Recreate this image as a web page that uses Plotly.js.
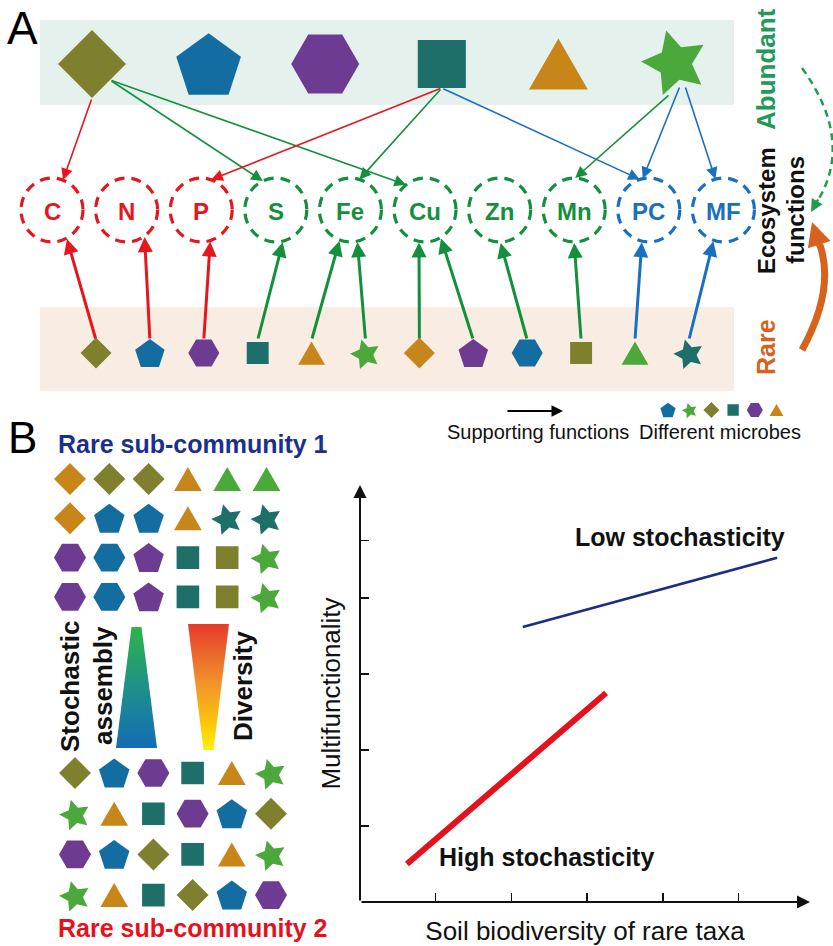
<!DOCTYPE html>
<html><head><meta charset="utf-8">
<script src="https://cdn.plot.ly/plotly-3.0.1.min.js"></script>
<style>html,body{margin:0;padding:0;background:#fff}</style>
</head><body><div id="chart" style="width:833px;height:946px"></div>
<script>
// ================= DATA =================
const abundantMicrobes = ['diamond:olive','pentagon:blue','hexagon:purple','square:teal','triangle:orange','star:green'];
const functionLabels   = ['C','N','P','S','Fe','Cu','Zn','Mn','PC','MF'];
const functionGroups   = ['nutrient','nutrient','nutrient','metal','metal','metal','metal','metal','process','process'];
const rareMicrobes     = ['diamond:olive','pentagon:blue','hexagon:purple','square:teal','triangle:orange','star:green',
                          'diamond:orange','pentagon:purple','hexagon:blue','square:olive','triangle:green','star:teal'];
const rareTargets      = ['C','N','P','S','Fe','Fe','Cu','Cu','Zn','Mn','PC','MF'];
const abundantSources  = [0,0,0,3,3,3,5,5,5];
const abundantTargets  = ['C','S','Cu','P','Fe','PC','Mn','PC','MF'];
const legendMicrobes   = ['pentagon:blue','star:green','diamond:olive','square:teal','hexagon:purple','triangle:orange'];
const community1 = [
  ['diamond:orange','diamond:olive','diamond:olive','triangle:orange','triangle:green','triangle:green'],
  ['diamond:orange','pentagon:blue','pentagon:blue','triangle:orange','star:teal','star:teal'],
  ['hexagon:purple','hexagon:blue','pentagon:purple','square:teal','square:olive','star:green'],
  ['hexagon:purple','hexagon:blue','pentagon:purple','square:teal','square:olive','star:green']
];
const community2 = [
  ['diamond:olive','pentagon:blue','hexagon:purple','square:teal','triangle:orange','star:green'],
  ['star:green','triangle:orange','square:teal','hexagon:purple','pentagon:blue','diamond:olive'],
  ['hexagon:purple','pentagon:blue','diamond:olive','square:teal','triangle:orange','star:green'],
  ['star:green','triangle:orange','square:teal','diamond:olive','pentagon:blue','hexagon:purple']
];
const lowStochX  = [2.15, 5.51], lowStochY  = [3.62, 4.53];
const highStochX = [0.62, 3.25], highStochY = [0.50, 2.75];
const xTickVals = [1,2,3,4,5];
const yTickVals = [1,2,3,4,4.76];

// ================= STYLE / LAYOUT CONSTANTS =================
const FONT = 'Liberation Sans, Arial, Helvetica, sans-serif';
const COLORS = {olive:'#7f802e', blue:'#146da1', purple:'#6d3c92', teal:'#1e6e6a', orange:'#c8861a', green:'#4ba83b'};
const GROUP_COLOR = {nutrient:'#e6161d', metal:'#13903d', process:'#1a70c0'};
const STAR_TILT = -15;
const AB = {x0:92, dx:116.6, y:64, r:34};
const FN = {x0:52, dx:74.6, y:210, rx:31, ry:32};
const RA = {x0:96, dx:53.9, y:353, r:15.5};
const LEG = {x0:668, dx:21.7, y:410, r:8};
const G1 = {x0:70, dx:39.3, y0:479, dy:39.3, r:16};
const G2 = {x0:75, dx:39.2, y0:773, dy:40.7, r:16};
const abStartOff = [[0,34],[18,16],[18,16],[0,24],[0,24],[0,24],[-5,30],[5,22],[10,22]];
const abTipDx    = [11,-13,-19,10,9,-9,1,-6,-8];
const raTipDx    = [15,18,9,7,-11,7,-6,16,1,0,-7,-10];

// ================= GLYPHS =================
const glyphs = {};
function addGlyph(code, cx, cy, R) {
  const [shape, col] = code.split(':');
  let n = 4, start = 0, dy = 0, inner = 1;
  if (shape === 'square') { n = 4; start = 45; }
  else if (shape === 'triangle') { n = 3; dy = R * 0.25; }
  else if (shape === 'pentagon') { n = 5; dy = R * 0.095; }
  else if (shape === 'hexagon') { n = 6; start = 30; }
  else if (shape === 'star') { n = 10; dy = R * 0.095; start = STAR_TILT; inner = 0.5; }
  const t = glyphs[col] || (glyphs[col] = {x: [], y: []});
  for (let k = 0; k < n; k++) {
    const a = (start + k * 360 / n) * Math.PI / 180;
    const r = (shape === 'star' && k % 2 === 1) ? R * inner : R;
    t.x.push(cx + r * Math.sin(a));
    t.y.push(cy + dy - r * Math.cos(a));
  }
  t.x.push(null); t.y.push(null);
}
abundantMicrobes.forEach((m, i) => addGlyph(m, AB.x0 + i * AB.dx, m.startsWith('star') ? AB.y - 4 : AB.y, AB.r));
rareMicrobes.forEach((m, i) => addGlyph(m, RA.x0 + i * RA.dx, RA.y, RA.r));
legendMicrobes.forEach((m, i) => addGlyph(m, LEG.x0 + i * LEG.dx, LEG.y, LEG.r));
community1.forEach((row, r) => row.forEach((m, c) => addGlyph(m, G1.x0 + c * G1.dx, G1.y0 + r * G1.dy, G1.r)));
community2.forEach((row, r) => row.forEach((m, c) => addGlyph(m, G2.x0 + c * G2.dx, G2.y0 + r * G2.dy, G2.r)));

const traces = [];
Object.keys(glyphs).forEach(col => {
  traces.push({x: glyphs[col].x, y: glyphs[col].y, xaxis: 'x', yaxis: 'y', mode: 'lines', fill: 'toself',
    fillcolor: COLORS[col], line: {width: 0, color: COLORS[col]}, hoverinfo: 'skip'});
});

// gradient wedges (stochastic assembly / diversity)
function wedge(cx, yTop, yBot, wTop, wBot, scale) {
  return {x: [cx - wTop/2, cx + wTop/2, cx + wBot/2, cx - wBot/2, cx - wTop/2],
          y: [yTop, yTop, yBot, yBot, yTop], xaxis: 'x', yaxis: 'y', mode: 'lines', fill: 'toself',
          line: {width: 0}, hoverinfo: 'skip',
          fillgradient: {type: 'vertical', start: yTop, stop: yBot, colorscale: scale}};
}
traces.push(wedge(136.5, 627, 748, 10, 41, [[0,'#2fb34a'],[0.5,'#1f908a'],[1,'#136cb6']]));
traces.push(wedge(208.5, 624, 750, 41, 10, [[0,'#e63a2c'],[0.45,'#f0902c'],[0.8,'#fcc80a'],[1,'#fff200']]));

// panel B chart lines
traces.push({x: lowStochX, y: lowStochY, xaxis: 'x2', yaxis: 'y2', mode: 'lines', line: {color: '#1b2d85', width: 2.6}, hoverinfo: 'skip'});
traces.push({x: highStochX, y: highStochY, xaxis: 'x2', yaxis: 'y2', mode: 'lines', line: {color: '#e5121b', width: 6}, hoverinfo: 'skip'});

// ================= SHAPES =================
const shapes = [
  {type: 'rect', xref: 'x', yref: 'y', x0: 40, x1: 734, y0: 20, y1: 105, fillcolor: '#e5f1ed', line: {width: 0}, layer: 'below'},
  {type: 'rect', xref: 'x', yref: 'y', x0: 40, x1: 734, y0: 307, y1: 391, fillcolor: '#f9ede3', line: {width: 0}, layer: 'below'},
  {type: 'path', xref: 'x', yref: 'y', path: 'M802,68 Q856,143 815,205', line: {color: '#1e9e4c', width: 2.5, dash: '7px,5px'}},
  {type: 'path', xref: 'x', yref: 'y', path: 'M802,350 Q835,290 820,245', line: {color: '#d6621c', width: 7}}
];
functionLabels.forEach((f, i) => {
  const cx = FN.x0 + i * FN.dx;
  shapes.push({type: 'circle', xref: 'x', yref: 'y', x0: cx - FN.rx, x1: cx + FN.rx, y0: FN.y - FN.ry, y1: FN.y + FN.ry,
    line: {color: GROUP_COLOR[functionGroups[i]], width: 3.2, dash: '10px,7px'}});
});

// ================= ANNOTATIONS =================
const ann = [];
function txt(text, x, y, size, color, extra) {
  ann.push(Object.assign({text, x, y, xref: 'x', yref: 'y', showarrow: false, xanchor: 'center', yanchor: 'middle',
    font: {family: FONT, size, color}}, extra || {}));
}
function arrow(x0, y0, x1, y1, color, width, size, ref) {
  const r = ref || ['x', 'y'];
  ann.push({x: x1, y: y1, ax: x0, ay: y0, xref: r[0], yref: r[1], axref: r[0], ayref: r[1], text: '', showarrow: true,
    arrowhead: 2, arrowsize: size, arrowwidth: width, arrowcolor: color, standoff: 0});
}
const fIndex = f => functionLabels.indexOf(f);
function circleY(dx, sign) { return FN.y + sign * FN.ry * Math.sqrt(Math.max(0, 1 - (dx / FN.rx) ** 2)); }

// abundant -> functions
abundantTargets.forEach((f, k) => {
  const s = abundantSources[k], j = fIndex(f);
  const sx = AB.x0 + s * AB.dx + abStartOff[k][0], sy = AB.y + abStartOff[k][1];
  const tx = FN.x0 + j * FN.dx + abTipDx[k], ty = circleY(abTipDx[k], -1);
  arrow(sx, sy, tx, ty, GROUP_COLOR[functionGroups[j]], 1.6, 1.45);
});
// rare -> functions
rareTargets.forEach((f, k) => {
  const j = fIndex(f);
  const sx = RA.x0 + k * RA.dx, sy = RA.y - 13;
  const tx = FN.x0 + j * FN.dx + raTipDx[k], ty = circleY(raTipDx[k], 1) + 1;
  arrow(sx, sy, tx, ty, GROUP_COLOR[functionGroups[j]], 3, 1.0);
});
// function labels
functionLabels.forEach((f, i) => txt('<b>' + f + '</b>', FN.x0 + i * FN.dx, FN.y + 1, 24, GROUP_COLOR[functionGroups[i]]));

// side labels and curved arrows heads
txt('<b>Abundant</b>', 766, 69, 26, '#1f9a5b', {textangle: -90});
txt('<b>Ecosystem</b>', 766, 211, 24, '#111', {textangle: -90});
txt('<b>functions</b>', 795, 210, 24, '#111', {textangle: -90});
txt('<b>Rare</b>', 766, 347, 25, '#d6621c', {textangle: -90});
arrow(819, 198, 811, 212, '#1e9e4c', 2.5, 1.0);
arrow(820, 247, 812, 222, '#d6621c', 7, 0.68);

// panel letters
txt('A', 22, 28, 46, '#000');
txt('B', 22, 437, 44, '#000');

// legend of panel A
arrow(506, 411, 563, 411, '#000', 2, 1.15);
txt('Supporting functions', 538, 432, 20, '#111');
txt('Different microbes', 720, 432, 20, '#111');

// panel B left texts
txt('<b>Rare sub-community 1</b>', 193, 444, 25, '#1b2f8e');
txt('<b>Rare sub-community 2</b>', 193, 928, 25, '#e5121b');
txt('<b>Stochastic</b>', 70, 686, 26, '#111', {textangle: -90});
txt('<b>assembly</b>', 103, 686, 26, '#111', {textangle: -90});
txt('<b>Diversity</b>', 243, 686, 26, '#111', {textangle: -90});

// panel B chart: axis arrows and labels
arrow(0, 0, 5.944, 0, '#111', 2, 1.3, ['x2', 'y2']);
arrow(0, 0, 0, 5.487, '#111', 2, 1.3, ['x2', 'y2']);
ann.push({text: '<b>Low stochasticity</b>', x: 4.227, y: 4.80, xref: 'x2', yref: 'y2', showarrow: false, font: {family: FONT, size: 25, color: '#111'}});
ann.push({text: '<b>High stochasticity</b>', x: 2.457, y: 0.592, xref: 'x2', yref: 'y2', showarrow: false, font: {family: FONT, size: 25, color: '#111'}});

const layout = {
  width: 833, height: 946, margin: {l: 0, r: 0, t: 0, b: 0, pad: 0},
  paper_bgcolor: '#ffffff', plot_bgcolor: 'rgba(0,0,0,0)', showlegend: false,
  font: {family: FONT},
  xaxis: {domain: [0, 1], range: [0, 833], visible: false, fixedrange: true},
  yaxis: {domain: [0, 1], range: [946, 0], visible: false, fixedrange: true},
  xaxis2: {domain: [360/833, 810/833], range: [0, 5.944], anchor: 'y2', showgrid: false, zeroline: false, showline: false,
    ticks: 'inside', ticklen: 9, tickwidth: 1.5, tickcolor: '#111', tickmode: 'array', tickvals: xTickVals, showticklabels: false,
    title: {text: 'Soil biodiversity of rare taxa', font: {family: FONT, size: 26, color: '#111'}, standoff: 20}, fixedrange: true},
  yaxis2: {domain: [44/946, 461/946], range: [0, 5.487], anchor: 'x2', showgrid: false, zeroline: false, showline: false,
    ticks: 'inside', ticklen: 9, tickwidth: 1.5, tickcolor: '#111', tickmode: 'array', tickvals: yTickVals, showticklabels: false,
    title: {text: 'Multifunctionality', font: {family: FONT, size: 26, color: '#111'}, standoff: 10}, fixedrange: true},
  shapes, annotations: ann
};
Plotly.newPlot('chart', traces, layout, {staticPlot: true, displayModeBar: false});
</script></body></html>
